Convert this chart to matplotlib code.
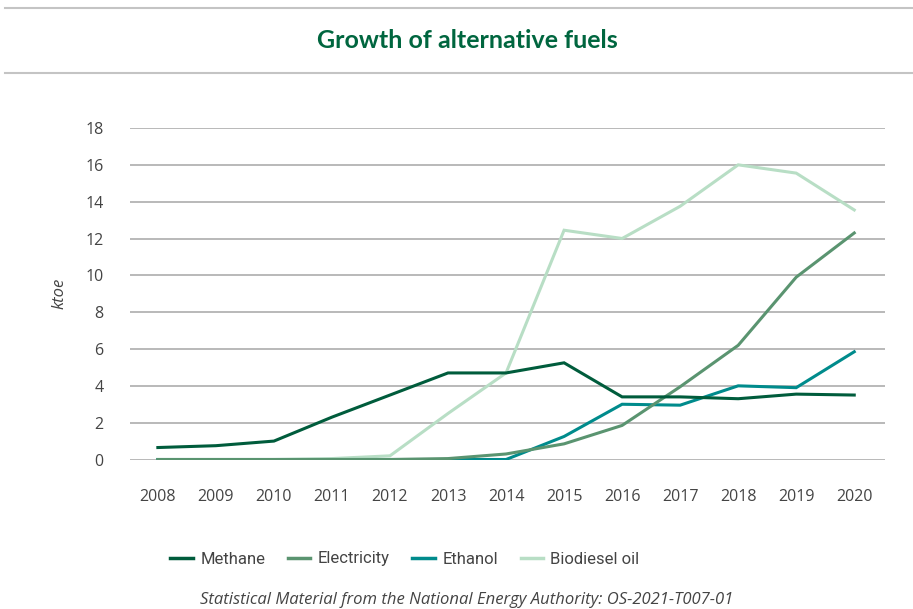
import matplotlib
matplotlib.use("Agg")
import matplotlib.pyplot as plt
from matplotlib.lines import Line2D

years = [2008, 2009, 2010, 2011, 2012, 2013, 2014, 2015, 2016, 2017, 2018, 2019, 2020]
methane = [0.65, 0.75, 1.0, 2.3, 3.5, 4.7, 4.7, 5.25, 3.4, 3.4, 3.3, 3.55, 3.5]
electricity = [0, 0, 0, 0, 0, 0.05, 0.3, 0.85, 1.85, 3.95, 6.2, 9.9, 12.3]
ethanol = [0, 0, 0, 0, 0, 0, 0, 1.25, 3.0, 2.95, 4.0, 3.9, 5.85]
biodiesel = [0, 0, 0, 0.05, 0.2, 2.5, 4.7, 12.45, 12.0, 13.75, 16.0, 15.55, 13.55]

series_names = ["Methane", "Electricity", "Ethanol", "Biodiesel oil"]
series_colors = ["#005c3c", "#5a9470", "#008b8c", "#b8dec5"]
yticks = [0, 2, 4, 6, 8, 10, 12, 14, 16, 18]

plt.rcParams["font.family"] = ["Open Sans", "DejaVu Sans"]
text_color = "#444444"

fig = plt.figure(figsize=(9.13, 6.09), dpi=100)
W, H = 913, 609

# header rules and title
for yy in (8, 73):
    fig.add_artist(Line2D([5 / W, 1], [1 - yy / H, 1 - yy / H], color="#c4c4c4", lw=1.5))
fig.text(467 / W, 1 - 41 / H, "Growth of alternative fuels", ha="center", va="center",
         fontsize=18, fontweight="bold", color="#00663f",
         family=["Lato", "DejaVu Sans"])

ax = fig.add_axes([130 / W, 1 - 459.5 / H, (885 - 130) / W, (459.5 - 128) / H])
ax.set_xlim(2007.52, 2020.53)
ax.set_ylim(0, 18)

all_series = [methane, electricity, ethanol, biodiesel]
# draw biodiesel first so darker lines sit on top at zero
order = [3, 2, 1, 0]
for i in order:
    ax.plot(years, all_series[i], color=series_colors[i], lw=2.2, label=series_names[i],
            zorder=3 + (3 - i), solid_joinstyle="miter")

ax.set_yticks(yticks)
ax.set_xticks(years)
ax.grid(axis="y", color="#adadad", lw=1.2)
ax.set_axisbelow(True)
for s in ax.spines.values():
    s.set_visible(False)
ax.tick_params(axis="both", length=0, labelsize=11.5, labelcolor=text_color)
ax.tick_params(axis="y", pad=19)
ax.tick_params(axis="x", pad=21)
ax.set_ylabel("ktoe", fontsize=12, style="italic", color=text_color, labelpad=13)

handles = [Line2D([], [], color=c, lw=2.5) for c in series_colors]
fig.legend(handles, series_names, loc="center", bbox_to_anchor=(405 / W, 1 - 559 / H),
           ncol=4, frameon=False, handlelength=1.35, handletextpad=0.45, columnspacing=1.35,
           labelcolor=text_color, prop={"family": "Roboto", "size": 12})

fig.text(467 / W, 1 - 600 / H, "Statistical Material from the National Energy Authority: OS-2021-T007-01",
         ha="center", va="center", fontsize=12, style="italic", color=text_color)

fig.savefig("out.png", dpi=100)
